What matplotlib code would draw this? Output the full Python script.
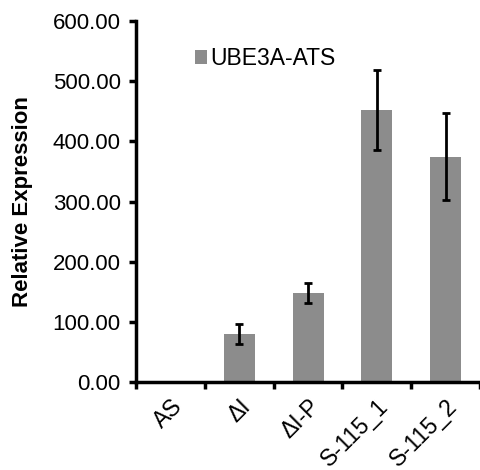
import numpy as np
import matplotlib.pyplot as plt

plt.rcParams['font.family'] = ['Liberation Sans', 'DejaVu Sans']

samples = ['AS', 'ΔI', 'ΔI-P', 'S-115_1', 'S-115_2']
expression = [2, 80, 148, 452, 375]
errors = [0, 17, 17, 66, 72]
yticks = [0, 100, 200, 300, 400, 500, 600]

fig = plt.figure(figsize=(4.81, 4.70), dpi=100)
ax = fig.add_axes([0.283, 0.187, 0.715, 0.768])

x = np.arange(len(samples))
ax.bar(x, expression, width=0.45, color='#8c8c8c', label='UBE3A-ATS', zorder=2)
err_x = [i for i, e in zip(x, errors) if e > 0]
err_y = [v for v, e in zip(expression, errors) if e > 0]
err_e = [e for e in errors if e > 0]
ax.errorbar(err_x, err_y, yerr=err_e, fmt='none', ecolor='black',
            elinewidth=2, capsize=3, capthick=2, zorder=3)

ax.set_xlim(-0.5, len(samples) - 0.5)
ax.set_ylim(0, 600)
ax.set_yticks(yticks)
ax.set_yticklabels(['%.2f' % v for v in yticks], fontsize=16)
ax.set_xticks(np.arange(len(samples) + 1) - 0.5, minor=False)
ax.set_xticklabels([''] * (len(samples) + 1))
ax.set_xticks(x, minor=True)
ax.set_xticklabels(samples, minor=True, fontsize=16.5, rotation=45,
                   ha='right', va='top', rotation_mode='anchor')
ax.tick_params(axis='x', which='minor', length=0, pad=9)
ax.tick_params(axis='both', which='major', width=2.5, length=5, direction='out')
ax.tick_params(axis='y', pad=6)

ax.set_ylabel('Relative Expression', fontsize=16, fontweight='bold', labelpad=14)

for side in ['top', 'right']:
    ax.spines[side].set_visible(False)
for side in ['left', 'bottom']:
    ax.spines[side].set_linewidth(2.5)

ax.legend(loc='upper left', bbox_to_anchor=(0.11, 0.985), frameon=False,
          fontsize=16.5, handlelength=0.55, handleheight=0.55, handletextpad=0.15)

fig.savefig('out.png', dpi=100)
